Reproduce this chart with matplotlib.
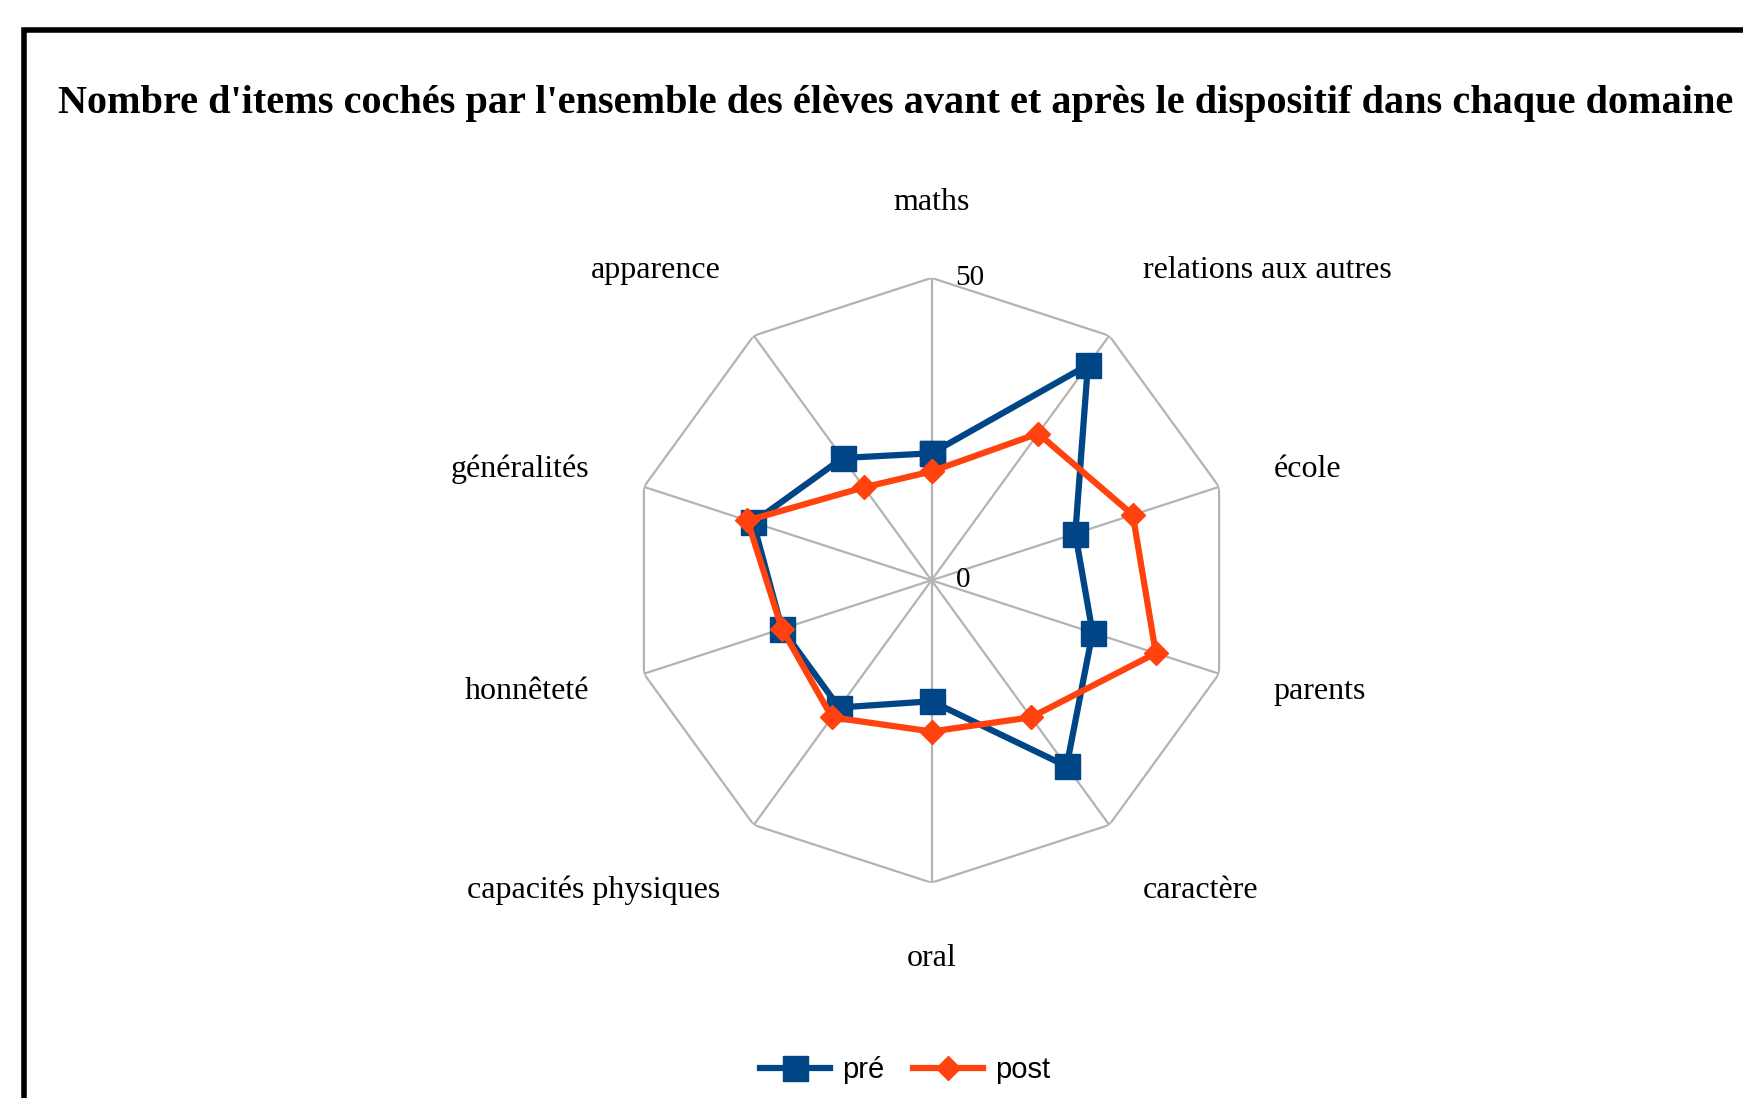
import numpy as np
import matplotlib
matplotlib.use("Agg")
import matplotlib.pyplot as plt
from matplotlib.patches import Rectangle

categories = ["maths", "relations aux autres", "école", "parents", "caractère",
              "oral", "capacités physiques", "honnêteté", "généralités", "apparence"]
pre_values = [21, 44, 25, 28, 38, 20, 26, 26, 31, 25]
post_values = [18, 30, 35, 39, 28, 25, 28, 26, 32, 19]
series_names = ["pré", "post"]
r_ticks = [0, 50]
title = "Nombre d'items cochés par l'ensemble des élèves avant et après le dispositif dans chaque domaine"

BLUE = "#004586"
ORANGE = "#ff420e"
GRID = "#b3b3b3"

W, H = 1743, 1098
fig = plt.figure(figsize=(W / 100, H / 100), dpi=100)

# outer frame (only left and top edges are visible in the crop)
fig.add_artist(Rectangle((24 / W, -0.1), 1.2, 1 - 30 / H + 0.1, fill=False,
                         lw=4, edgecolor="black", transform=fig.transFigure))

fig.text(58 / W, 1 - 103 / H, title, family="Liberation Serif", weight="bold",
         fontsize=29, va="center", ha="left")

# polar axes, centre and radius in pixels
cx, cy, rad = 931.5, 580.3, 302.4
ax = fig.add_axes([(cx - rad) / W, (H - cy - rad) / H, 2 * rad / W, 2 * rad / H],
                  projection="polar")
ax.set_theta_zero_location("N")
ax.set_theta_direction(-1)
ax.set_ylim(0, r_ticks[-1])
ax.spines["polar"].set_visible(False)
ax.grid(False)
ax.set_xticks([])
ax.set_yticks([])
ax.patch.set_alpha(0)

n = len(categories)
angles = np.arange(n) * 2 * np.pi / n
closed = np.append(angles, angles[0])

# decagon grid and spokes
ax.plot(closed, [r_ticks[-1]] * (n + 1), color=GRID, lw=1.6, zorder=1)
for a in angles:
    ax.plot([a, a], [0, r_ticks[-1]], color=GRID, lw=1.6, zorder=1)

ax.plot(closed, pre_values + pre_values[:1], color=BLUE, lw=4.5, marker="s",
        ms=18, label=series_names[0], zorder=3, clip_on=False)
ax.plot(closed, post_values + post_values[:1], color=ORANGE, lw=4.5, marker="D",
        ms=12, label=series_names[1], zorder=4, clip_on=False)

for t in r_ticks:
    ax.annotate(str(t), xy=(0, t), xytext=(24, 0), textcoords="offset pixels",
                family="Liberation Serif", fontsize=21, va="center", ha="left",
                annotation_clip=False)

for a, lab in zip(angles, categories):
    s = np.sin(a)
    if abs(s) < 1e-6:
        r, ha, dx = 62.5, "center", 0
    elif abs(s) > 0.9:
        r, ha, dx = 59.5, "left" if s > 0 else "right", 0
    else:
        r, ha, dx = 63.3, "left" if s > 0 else "right", -14 if s > 0 else 14
    ax.annotate(lab, xy=(a, r), xytext=(dx, 0), textcoords="offset pixels",
                family="Liberation Serif", fontsize=23, ha=ha, va="center",
                annotation_clip=False)

fig.legend(loc="center", bbox_to_anchor=(905 / W, 1 - 1070 / H), ncol=2,
           frameon=False, prop={"family": "Liberation Sans", "size": 21},
           handlelength=2.4, columnspacing=1.0, handletextpad=0.4)

fig.savefig("out.png", dpi=100)
